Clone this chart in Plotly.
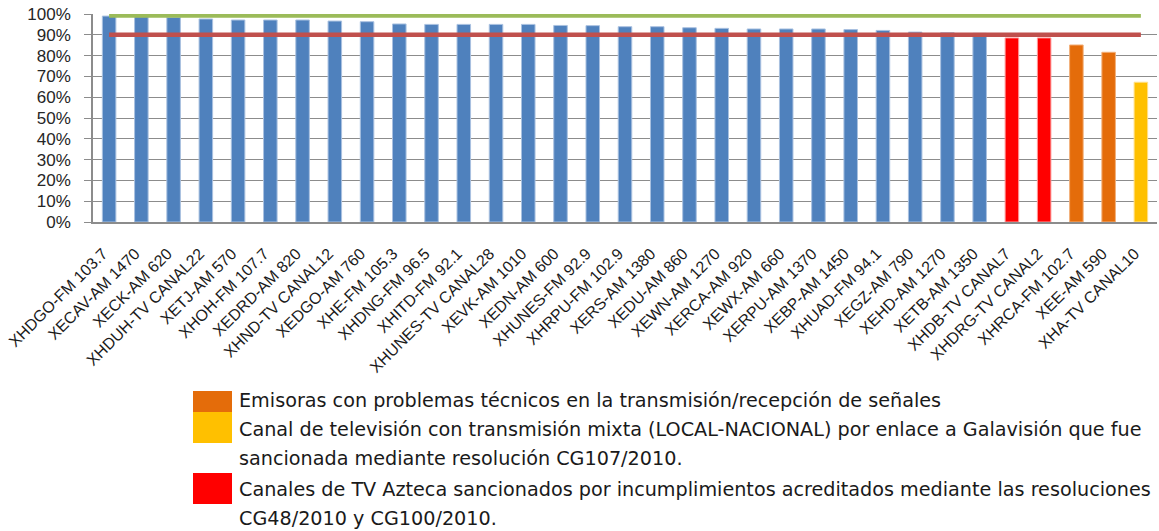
import plotly.graph_objects as go

# ---------------- data ----------------
stations = [
    "XHDGO-FM 103.7", "XECAV-AM 1470", "XECK-AM 620", "XHDUH-TV CANAL22",
    "XETJ-AM 570", "XHOH-FM 107.7", "XEDRD-AM 820", "XHND-TV CANAL12",
    "XEDGO-AM 760", "XHE-FM 105.3", "XHDNG-FM 96.5", "XHITD-FM 92.1",
    "XHUNES-TV CANAL28", "XEVK-AM 1010", "XEDN-AM 600", "XHUNES-FM 92.9",
    "XHRPU-FM 102.9", "XERS-AM 1380", "XEDU-AM 860", "XEWN-AM 1270",
    "XERCA-AM 920", "XEWX-AM 660", "XERPU-AM 1370", "XEBP-AM 1450",
    "XHUAD-FM 94.1", "XEGZ-AM 790", "XEHD-AM 1270", "XETB-AM 1350",
    "XHDB-TV CANAL7", "XHDRG-TV CANAL2", "XHRCA-FM 102.7", "XEE-AM 590",
    "XHA-TV CANAL10",
]
compliance = [
    0.990, 0.987, 0.984, 0.976, 0.971, 0.971, 0.971, 0.966,
    0.963, 0.952, 0.950, 0.950, 0.950, 0.950, 0.945, 0.944,
    0.939, 0.939, 0.934, 0.931, 0.928, 0.928, 0.928, 0.925,
    0.921, 0.913, 0.910, 0.907, 0.885, 0.885, 0.851, 0.816,
    0.672,
]
groups = (["normal"] * 28 + ["azteca"] * 2 + ["tecnico"] * 2 + ["mixta"])

upper_ref = 0.993
lower_ref = 0.90

legend_groups = ["tecnico", "mixta", "azteca"]
legend_lines = {
    "tecnico": ["Emisoras con problemas técnicos en la transmisión/recepción de señales"],
    "mixta": ["Canal de televisión con transmisión mixta (LOCAL-NACIONAL) por enlace a Galavisión que fue",
              "sancionada mediante resolución CG107/2010."],
    "azteca": ["Canales de TV Azteca sancionados por incumplimientos acreditados mediante las resoluciones",
               "CG48/2010 y CG100/2010."],
}

# ---------------- styles ----------------
group_colors = {"normal": "#4F81BD", "azteca": "#FF0000",
                "tecnico": "#E46C0A", "mixta": "#FFC000"}
group_edges = {"normal": "#A9C1E0", "azteca": "#FF9A9A",
               "tecnico": "#F2B07A", "mixta": "#FFE08A"}
grid_color = "#8C8C8C"
W, H = 1159, 531
L, R, T, B = 93, 2, 14, 309
pw, ph = W - L - R, H - T - B


def px_x(px):
    return (px - L) / pw


def px_y(py):
    return (H - B - py) / ph


fig = go.Figure()
fig.add_trace(go.Bar(
    x=stations, y=compliance,
    marker=dict(color=[group_colors[g] for g in groups],
                line=dict(color=[group_edges[g] for g in groups], width=1)),
    width=0.42, showlegend=False, hoverinfo="x+y",
))
fig.add_trace(go.Scatter(
    x=stations, y=[upper_ref] * len(stations), mode="lines",
    line=dict(color="#9BBB59", width=4.5), showlegend=False,
))
fig.add_trace(go.Scatter(
    x=stations, y=[lower_ref] * len(stations), mode="lines",
    line=dict(color="#C0504D", width=4.5), showlegend=False,
))

# custom legend
shapes = []
annotations = []
square_px = {"tecnico": (391, 412), "mixta": (412, 443), "azteca": (473, 504)}
line_centers = {"tecnico": [400], "mixta": [429, 459], "azteca": [489, 518]}
for g in legend_groups:
    y0, y1 = square_px[g]
    shapes.append(dict(type="rect", xref="paper", yref="paper",
                       x0=px_x(193), x1=px_x(232), y0=px_y(y1), y1=px_y(y0),
                       fillcolor=group_colors[g], line=dict(width=0)))
    for txt, cy in zip(legend_lines[g], line_centers[g]):
        annotations.append(dict(text=txt, xref="paper", yref="paper",
                                x=px_x(237), y=px_y(cy), xanchor="left",
                                yanchor="middle", showarrow=False,
                                font=dict(family="DejaVu Sans", size=19.2,
                                          color="#1A1A1A")))

pad = "\u00a0\u00a0"
fig.update_layout(
    width=W, height=H,
    margin=dict(l=L, r=R, t=T, b=B, pad=0),
    plot_bgcolor="white", paper_bgcolor="white",
    shapes=shapes, annotations=annotations,
    font=dict(family="Liberation Sans", color="#262626"),
)
fig.update_xaxes(
    type="category", range=[-0.5, len(stations) - 0.5],
    tickmode="array", tickvals=stations, ticktext=[s + pad for s in stations],
    tickangle=-45, tickfont=dict(size=16, color="#1A1A1A"),
    showgrid=False, showline=True, linecolor=grid_color, linewidth=1.5,
    ticks="", ticklabelstandoff=8,
)
fig.update_yaxes(
    range=[0, 1], dtick=0.1, tickformat=".0%",
    tickfont=dict(size=17, color="#262626"),
    showgrid=True, gridcolor=grid_color, gridwidth=1.3,
    showline=True, linecolor=grid_color, linewidth=1.5,
    ticks="outside", ticklen=7, tickcolor=grid_color, tickwidth=1.3,
    zeroline=False, ticklabelstandoff=10,
)

fig.write_html("out.html", config={"displayModeBar": False},
               post_script="document.body.style.margin='0';")
